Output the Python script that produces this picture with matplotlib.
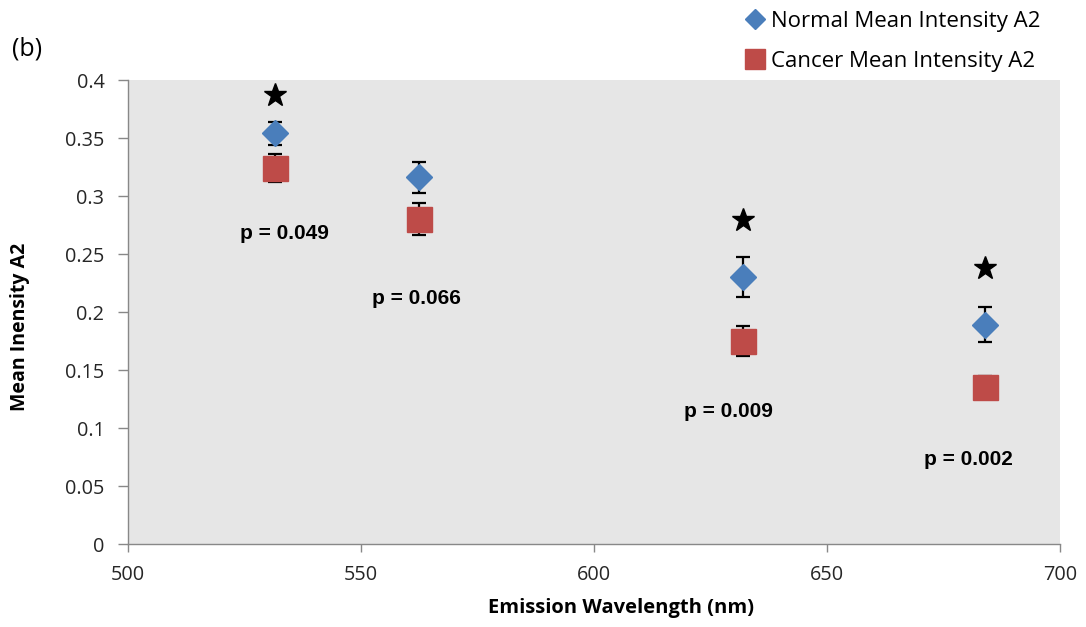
import matplotlib
matplotlib.use("Agg")
import matplotlib.pyplot as plt
from matplotlib.lines import Line2D

# Emission wavelengths (nm)
wavelength = [531.5, 562.5, 632.0, 684.0]

# Mean intensity A2 with standard errors
normal_mean = [0.354, 0.316, 0.230, 0.189]
normal_err = [0.010, 0.013, 0.017, 0.015]
cancer_mean = [0.324, 0.280, 0.175, 0.135]
cancer_err = [0.012, 0.014, 0.013, 0.010]

# Significance markers and p-values
star_y = [0.387, None, 0.279, 0.238]
p_labels = ["p = 0.049", "p = 0.066", "p = 0.009", "p = 0.002"]
p_pos = [(533.5, 0.268), (562.0, 0.212), (628.8, 0.114), (680.3, 0.073)]

xticks = [500, 550, 600, 650, 700]
yticks = [0, 0.05, 0.1, 0.15, 0.2, 0.25, 0.3, 0.35, 0.4]
ytick_labels = ["0", "0.05", "0.1", "0.15", "0.2", "0.25", "0.3", "0.35", "0.4"]

blue = "#4a7ebb"
red = "#be4b48"
font = ["Open Sans", "DejaVu Sans"]

W, H = 1086, 627
fig = plt.figure(figsize=(W / 100, H / 100), dpi=100)
ax = fig.add_axes([128 / W, 1 - 544 / H, (1060 - 128) / W, (544 - 80) / H])
ax.set_facecolor("#e6e6e6")

ax.errorbar(wavelength, cancer_mean, yerr=cancer_err, fmt="none", ecolor="black",
            elinewidth=1.6, capsize=5, capthick=1.6, zorder=2)
ax.plot(wavelength, cancer_mean, linestyle="none", marker="s", markersize=18,
        color=red, markeredgecolor=red, zorder=3)
ax.errorbar(wavelength, normal_mean, yerr=normal_err, fmt="none", ecolor="black",
            elinewidth=1.6, capsize=5, capthick=1.6, zorder=4)
ax.plot(wavelength, normal_mean, linestyle="none", marker="D", markersize=13.5,
        color=blue, markeredgecolor=blue, zorder=5)

for x, y in zip(wavelength, star_y):
    if y is not None:
        ax.plot(x, y, marker="*", markersize=17, color="black", linestyle="none", zorder=6)

for lbl, (x, y) in zip(p_labels, p_pos):
    ax.text(x, y, lbl, ha="center", va="center", fontsize=15, fontweight="bold",
            family=["Liberation Sans", "DejaVu Sans"])

ax.set_xlim(500, 700)
ax.set_ylim(0, 0.4)
ax.set_xticks(xticks)
ax.set_yticks(yticks)
ax.set_yticklabels(ytick_labels)
for lab in ax.get_xticklabels() + ax.get_yticklabels():
    lab.set_family(font)
    lab.set_fontsize(14.3)
    lab.set_color("#262626")
ax.tick_params(axis="y", direction="out", length=7, color="#888888", width=1, pad=10)
ax.tick_params(axis="x", direction="out", length=6, color="#888888", width=1, pad=9)

for side in ["top", "right"]:
    ax.spines[side].set_visible(False)
for side in ["left", "bottom"]:
    ax.spines[side].set_color("#888888")
    ax.spines[side].set_linewidth(1)

ax.set_xlabel("Emission Wavelength (nm)", fontsize=14.5, fontweight="bold", family=font,
              va="center")
ax.xaxis.set_label_coords((621 - 128) / 932, (544 - 608) / 464)
ax.set_ylabel("Mean Inensity A2", fontsize=14, fontweight="bold", family=font,
              va="center", ha="center")
ax.yaxis.set_label_coords((20 - 128) / 932, (544 - 327) / 464)

fig.text(12 / W, 1 - 49 / H, "(b)", fontsize=18, family=font, va="center", ha="left")

handles = [
    Line2D([], [], linestyle="none", marker="D", markersize=10, color=blue),
    Line2D([], [], linestyle="none", marker="s", markersize=14.5, color=red),
]
fig.legend(handles, ["Normal Mean Intensity A2", "Cancer Mean Intensity A2"],
           loc="upper left", bbox_to_anchor=(735 / W, 1.0), frameon=False,
           prop={"family": font, "size": 16}, handletextpad=0.3, labelspacing=0.85,
           handlelength=0.8, borderaxespad=0.1, borderpad=0.4)

fig.savefig("out.png", dpi=100)
